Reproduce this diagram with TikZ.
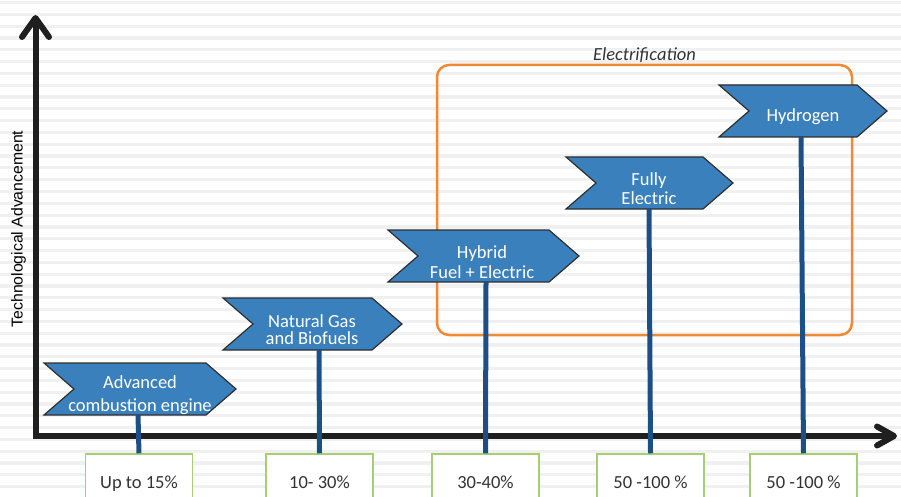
\documentclass[tikz,border=0pt]{standalone}
\usepackage{fontspec}
\setmainfont{Carlito}
\newfontfamily\axisfont{Liberation Sans}
\usetikzlibrary{arrows.meta}
\definecolor{chevblue}{HTML}{3A80BC}
\definecolor{chevline}{HTML}{2E2E2E}
\definecolor{polecol}{HTML}{1D4E85}
\definecolor{elecorange}{HTML}{EE8A36}
\definecolor{pctgreen}{HTML}{A6CF70}
\definecolor{pcttext}{HTML}{333333}
\tikzset{
    pics/chevron/.style n args = {4}{
        code = {
        \draw [chevfill] (0,0) -- (#1-30,0) -- (#1,26) -- (#1-30,52) -- (0,52) -- (30,26) -- cycle;
        \node [chevtext] (-txt) at (#2,32) {#4};
        \coordinate (-foot) at (#3,52);
        }
    },
    chevfill/.style = {fill=chevblue, draw=chevline, line width=1.2pt},
    chevtext/.style = {text=white, align=center, inner sep=0pt, font=\fontsize{18.5}{20}\selectfont},
    pole/.style = {draw=polecol, line width=5pt},
    pctbox/.style = {draw=pctgreen, fill=white, line width=1.5pt, minimum width=107pt, minimum height=56pt,
        text height=12pt, text depth=0pt, inner sep=0pt, text=pcttext, font=\fontsize{18.5}{20}\selectfont},
    stripe/.style = {draw=gray!12, line width=3.2pt},
    axis/.style = {draw=black!88, line width=6pt, line join=miter},
    elecbox/.style = {draw=elecorange, line width=2.5pt, rounded corners=12pt, inner sep=0pt,
        minimum width=415pt, minimum height=270pt},
    eleclabel/.style = {font=\itshape\fontsize{18.5}{20}\selectfont, text=black!80, inner sep=0pt},
}

\begin{document}
\begin{tikzpicture}[x=1pt, y=-1pt]
    \useasboundingbox (0,0) rectangle (901,497);
    \clip (0,0) rectangle (901,497);
    \foreach \k in {0,...,42}
        \draw [stripe] (0,{2.7+11.8*\k}) -- (901,{2.7+11.8*\k});

    \coordinate (origin) at (35.5,436);
    \coordinate (ytip) at (35.5,15);
    \coordinate (xtip) at (897,436);
    \draw [axis, {Straight Barb[length=19pt,width=27pt,round]}-{Straight Barb[length=17pt,width=19pt,round]}]
        (ytip) -- (origin) -- (xtip);
    \node [rotate=90, inner sep=0pt, font=\axisfont\fontsize{15.8}{18}\selectfont] (ylabel) at (18.5,229) {Technological Advancement};

    \node [elecbox] (elec) at (644.5,200) {};
    \node [eleclabel, anchor=base] (electitle) at (644.5,61) {Electrification};

    \path pic (adv) at (44,363) {chevron={192}{96}{94}{Advanced\\[3pt]combustion engine}};
    \path pic (gas) at (223,298) {chevron={179}{89}{96}{Natural Gas\\[-3pt]and Biofuels}};
    \path pic (hyb) at (388,230) {chevron={191}{94}{98}{Hybrid\\Fuel + Electric}};
    \path pic (ful) at (566,157) {chevron={167}{83}{83}{Fully\\[-1pt]Electric}};
    \path pic (hyd) at (719,85) {chevron={168}{84}{82}{Hydrogen}};

    \node [pctbox] (adv-pct) at (139,482) {Up to 15\%};
    \node [pctbox] (gas-pct) at (319.5,482) {10- 30\%};
    \node [pctbox] (hyb-pct) at (485.5,482) {30-40\%};
    \node [pctbox] (ful-pct) at (650.5,482) {50 -100 \%};
    \node [pctbox] (hyd-pct) at (803.5,482) {50 -100 \%};

    \draw [pole] (adv-foot) -- (adv-pct.north);
    \draw [pole] (gas-foot) -- (gas-pct.north);
    \draw [pole] (hyb-foot) -- (hyb-pct.north);
    \draw [pole] (ful-foot) -- (ful-pct.north);
    \draw [pole] (hyd-foot) -- (hyd-pct.north);

\end{tikzpicture}
\end{document}
